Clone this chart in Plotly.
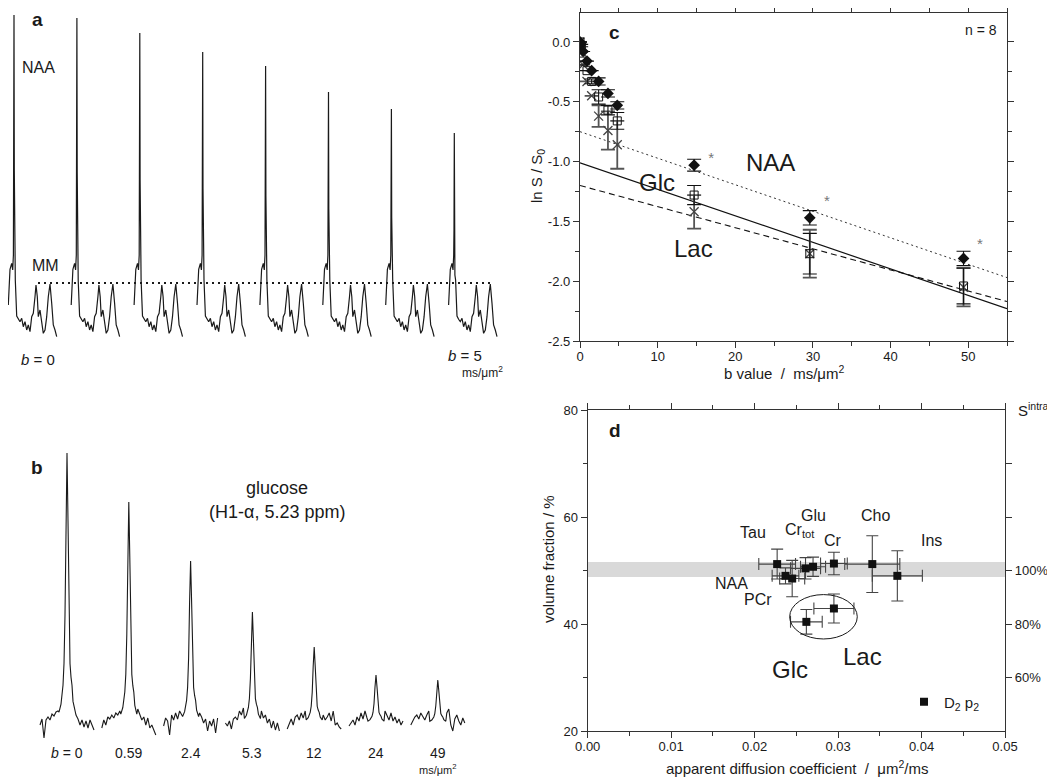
import plotly.graph_objects as go

W, H = 1055, 780
PAGE_PAD = 8  # browser body margin: the figure sits 8px in from the page corner
FONT = "Arial, Liberation Sans, Helvetica, sans-serif"
INK = "#1a1a1a"
AX = "#333333"


def fx(p):
    return (p - PAGE_PAD) / W


def fy(p):
    return 1 - (p - PAGE_PAD) / H


# ---------------- panel a : stacked NAA spectra, b = 0 ... 5 ----------------
a_peak_heights = [310, 307, 292, 273, 259, 233, 216, 192]
a_offsets = [-5.7, -4.0, -2.3, -1.3, -0.6, -0.3, 0.0, 0.3, 0.6, 1.3, 2.7, 4.3,
             6.0, 7.7, 9.3, 11.0, 12.7, 14.3, 16.0, 17.7, 19.3, 21.0,
             22.0, 23.3, 24.3, 26.0, 27.7, 29.3, 31.0, 32.7, 34.3, 36.0,
             37.7, 39.3, 41.0, 42.7]
a_baseline = [20, 55.7, 61.7, 55, 70, 0, 0, 0, 50, 45, 9, 5.7,
              3.3, 6.7, -1.7, 3.3, -5, 0, -6.7, 8.3, 11.7, 28.3,
              40, 28.3, 8.3, 15, 5, -8.3, -5, 8.3, 28.3, 41,
              21.7, 0, -5, -11.7]
a_peak_frac = [0, 0, 0, 0, 0, 0.5, 1, 0.5, 0, 0, 0, 0,
               0, 0, 0, 0, 0, 0, 0, 0, 0, 0,
               0, 0, 0, 0, 0, 0, 0, 0, 0, 0,
               0, 0, 0, 0]
a_mm_level = 42
a_first, a_step = 14, 62.9

# ---------------- panel b : glucose H1-alpha spectra ----------------
b_labels = ["<i>b</i> = 0", "0.59", "2.4", "5.3", "12", "24", "49"]
b_heights = [270, 221, 162, 111, 76, 48, 43]
b_peak_off = [-8, -6, -4, -3, -2, -1, 0, 1, 2, 3, 4, 5, 6, 8]
b_peak_shape = [0.04, 0.07, 0.14, 0.22, 0.40, 0.75, 1.0, 0.75, 0.40, 0.22, 0.17, 0.14, 0.08, 0.04]
b_noise_left_off = [-27, -25, -23, -21, -19, -17, -15, -13, -11, -9]
b_noise_right_off = [9, 11, 13, 15, 17, 19, 21, 23, 25, 27]
b_noise_left = [
    [-2, 4, -15, 3, 6, 3, 9, 7, 11, 12],
    [-5, 3, -2, 6, 4, 8, 5, 10, 8, 12],
    [-3, 5, 2, -12, 8, 3, 10, 4, 12, 8],
    [0, -3, 2, -6, 4, 6, 3, 12, 8, 15],
    [-6, 0, 4, -2, 6, 8, 3, 10, 5, 12],
    [-3, 0, 3, -2, 6, 2, 10, 4, 12, 5],
    [-2, 3, 6, 8, 4, 10, 6, 3, 8, 12],
]
b_noise_right = [
    [8, 4, -2, 3, -4, 2, -5, 3, -3, -7],
    [14, 8, 3, 6, -2, 5, -5, -2, -8, -12],
    [10, 6, 0, 4, -8, 2, -3, 4, -10, 5],
    [12, 5, 8, 0, 4, -5, 2, -7, 0, -8],
    [8, 3, 6, 10, 2, 12, -2, 0, -4, -6],
    [12, 8, 3, 10, 2, 6, 0, 4, -2, 2],
    [10, 14, -2, -8, 4, 8, 2, -2, 5, 0],
]
b_first, b_step = 67, 61.8

# ---------------- panel c : ln S/S0 vs b ----------------
c_b = [0, 0.15, 0.4, 0.9, 1.5, 2.4, 3.6, 4.8, 14.7, 29.6, 49.4]
c_naa = [0.0, -0.02, -0.08, -0.16, -0.24, -0.33, -0.43, -0.53, -1.03, -1.47, -1.81]
c_naa_err = [0, 0, 0, 0, 0, 0.03, 0.03, 0.03, 0.05, 0.06, 0.06]
c_glc = [0.0, -0.04, -0.16, -0.24, -0.33, -0.46, -0.57, -0.66, -1.28, -1.77, -2.04]
c_glc_err = [0, 0, 0, 0, 0.02, 0.06, 0.04, 0.07, 0.08, 0.17, 0.15]
c_lac = [0.0, -0.08, -0.19, -0.33, -0.45, -0.62, -0.74, -0.86, -1.42, -1.77, -2.05]
c_lac_err = [0, 0, 0, 0, 0, 0.09, 0.16, 0.20, 0.14, 0.20, 0.16]
c_fit_b = [0, 55]
c_fit_naa = [-0.75, -1.97]
c_fit_glc = [-1.01, -2.23]
c_fit_lac = [-1.20, -2.17]
c_sig_b = [16.9, 31.8, 51.5]
c_sig_y = [-0.98, -1.34, -1.70]
c_yticks = [0.0, -0.5, -1.0, -1.5, -2.0, -2.5]
c_ytext = ["0.0", "-0.5", "-1.0", "-1.5", "-2.0", "-2.5"]

# ---------------- panel d : volume fraction vs ADC ----------------
d_names = ["Tau", "NAA", "PCr", "Cr_tot", "Glu", "Cr", "Cho", "Ins", "Glc", "Lac"]
d_adc = [0.0227, 0.0237, 0.0245, 0.0261, 0.0270, 0.0295, 0.0341, 0.0371, 0.0262, 0.0295]
d_adc_err = [0.0022, 0.0016, 0.0015, 0.0018, 0.0015, 0.0016, 0.0033, 0.0030, 0.0019, 0.0024]
d_vf = [51.2, 49.0, 48.5, 50.4, 50.7, 51.3, 51.2, 49.0, 40.4, 42.9]
d_vf_err = [2.8, 1.5, 3.4, 2.0, 1.8, 2.1, 5.3, 4.7, 2.3, 2.7]
d_band = [48.8, 51.6]
d_ellipse_x = [0.0242, 0.0323]
d_ellipse_y = [37.2, 45.5]
d_xticks = [0.0, 0.01, 0.02, 0.03, 0.04, 0.05]
d_xtext = ["0.00", "0.01", "0.02", "0.03", "0.04", "0.05"]
d_s_ticks = [60, 80, 100, 120, 140]
d_s_text = ["60%", "80%", "100%", " ", " "]

fig = go.Figure()

# panel a spectra
for i, hgt in enumerate(a_peak_heights):
    cx = a_first + i * a_step
    xs = [cx + o for o in a_offsets]
    ys = [b0 + f * hgt for b0, f in zip(a_baseline, a_peak_frac)]
    fig.add_trace(go.Scatter(x=xs, y=ys, mode="lines", xaxis="x", yaxis="y",
                             line=dict(color=INK, width=1.2), showlegend=False, hoverinfo="skip"))

# panel b spectra
for i, hgt in enumerate(b_heights):
    cx = b_first + i * b_step
    xs = [cx + o for o in b_noise_left_off] + [cx + o for o in b_peak_off] + [cx + o for o in b_noise_right_off]
    ys = list(b_noise_left[i]) + [s * hgt for s in b_peak_shape] + list(b_noise_right[i])
    fig.add_trace(go.Scatter(x=xs, y=ys, mode="lines", xaxis="x2", yaxis="y2",
                             line=dict(color=INK, width=1.1), showlegend=False, hoverinfo="skip"))

# panel c fits
fig.add_trace(go.Scatter(x=c_fit_b, y=c_fit_naa, mode="lines", xaxis="x3", yaxis="y3",
                         line=dict(color="#333", width=1, dash="2px,3px"), showlegend=False))
fig.add_trace(go.Scatter(x=c_fit_b, y=c_fit_glc, mode="lines", xaxis="x3", yaxis="y3",
                         line=dict(color="#111", width=1.2), showlegend=False))
fig.add_trace(go.Scatter(x=c_fit_b, y=c_fit_lac, mode="lines", xaxis="x3", yaxis="y3",
                         line=dict(color="#111", width=1.1, dash="6px,4px"), showlegend=False))
# panel c data
fig.add_trace(go.Scatter(x=c_b, y=c_lac, mode="markers", xaxis="x3", yaxis="y3",
                         marker=dict(symbol="x-thin-open", size=9, color="#444", line=dict(color="#444", width=1.3)),
                         error_y=dict(type="data", array=c_lac_err, color="#555", thickness=1.8, width=7),
                         showlegend=False))
fig.add_trace(go.Scatter(x=c_b, y=c_glc, mode="markers", xaxis="x3", yaxis="y3",
                         marker=dict(symbol="square-open", size=8, color="#111", line=dict(color="#111", width=1)),
                         error_y=dict(type="data", array=c_glc_err, color="#111", thickness=1.1, width=7),
                         showlegend=False))
fig.add_trace(go.Scatter(x=c_b, y=c_naa, mode="markers", xaxis="x3", yaxis="y3",
                         marker=dict(symbol="diamond", size=9, color="#111"),
                         error_y=dict(type="data", array=c_naa_err, color="#111", thickness=1.1, width=7),
                         showlegend=False))
fig.add_trace(go.Scatter(x=c_sig_b, y=c_sig_y, mode="text", text=["*"] * len(c_sig_b), xaxis="x3", yaxis="y3",
                         textfont=dict(family=FONT, size=15, color="#777"), showlegend=False))

# panel d data
fig.add_trace(go.Scatter(x=d_adc, y=d_vf, mode="markers", xaxis="x4", yaxis="y4",
                         name="D<sub>2</sub> p<sub>2</sub>",
                         marker=dict(symbol="square", size=8, color="#111"),
                         error_x=dict(type="data", array=d_adc_err, color="#444", thickness=1.1, width=6),
                         error_y=dict(type="data", array=d_vf_err, color="#444", thickness=1.1, width=6),
                         showlegend=True))
# invisible trace to activate the right axis
fig.add_trace(go.Scatter(x=[None], y=[None], xaxis="x4", yaxis="y5", showlegend=False, hoverinfo="skip"))

tickfont = dict(family=FONT, size=13, color=INK)

layout = dict(
    template="none",
    width=W, height=H, margin=dict(l=0, r=0, t=0, b=0, autoexpand=False),
    paper_bgcolor="white", plot_bgcolor="rgba(0,0,0,0)",
    font=dict(family=FONT, color=INK),
    # panel a
    xaxis=dict(domain=[fx(8), fx(520)], range=[8, 520], visible=False, automargin=False),
    yaxis=dict(domain=[fy(340), fy(8)], range=[-15, 317], visible=False, automargin=False),
    # panel b
    xaxis2=dict(domain=[fx(8), fx(520)], range=[8, 520], visible=False, anchor="y2", automargin=False),
    yaxis2=dict(domain=[fy(760), fy(420)], range=[-37, 303], visible=False, anchor="x2", automargin=False),
    # panel c
    xaxis3=dict(domain=[fx(580), fx(1007)], range=[0, 55], anchor="y3", automargin=False,
                tickmode="array", tickvals=[0, 10, 20, 30, 40, 50], ticklabelstandoff=-3,
                ticks="outside", ticklen=6, tickwidth=1.2, tickcolor=AX,
                minor=dict(tickmode="linear", tick0=0, dtick=5, ticks="outside", ticklen=3.5, tickcolor=AX, tickwidth=1.2),
                showline=True, linecolor=AX, linewidth=1.3, mirror="ticks",
                showgrid=False, zeroline=False, tickfont=tickfont),
    yaxis3=dict(domain=[fy(341), fy(13)], range=[-2.5, 0.242], anchor="x3", automargin=False,
                tickmode="array", tickvals=c_yticks, ticktext=c_ytext,
                ticks="outside", ticklen=6, tickwidth=1.2, tickcolor=AX,
                minor=dict(tickmode="linear", tick0=0, dtick=0.25, ticks="outside", ticklen=4, tickcolor=AX, tickwidth=1.2),
                showline=True, linecolor=AX, linewidth=1.3, mirror="ticks",
                showgrid=False, zeroline=False, tickfont=tickfont),
    # panel d
    xaxis4=dict(domain=[fx(587.7), fx(1005)], range=[0, 0.05], anchor="y4", automargin=False,
                tickmode="array", tickvals=d_xticks, ticktext=d_xtext, ticklabelstandoff=-3,
                ticks="outside", ticklen=6, tickwidth=1.2, tickcolor=AX,
                minor=dict(tickmode="linear", tick0=0, dtick=0.005, ticks="outside", ticklen=3.5, tickcolor=AX, tickwidth=1.2),
                showline=True, linecolor=AX, linewidth=1.3, mirror="ticks",
                showgrid=False, zeroline=False, tickfont=tickfont),
    yaxis4=dict(domain=[fy(731), fy(410)], range=[20, 80], anchor="x4", automargin=False,
                tickmode="array", tickvals=[20, 40, 60, 80],
                ticks="outside", ticklen=6, tickwidth=1.2, tickcolor=AX,
                minor=dict(tickmode="linear", tick0=20, dtick=10, ticks="outside", ticklen=3.5, tickcolor=AX, tickwidth=1.2),
                showline=True, linecolor=AX, linewidth=1.3, mirror=False,
                showgrid=False, zeroline=False, tickfont=tickfont),
    yaxis5=dict(overlaying="y4", side="right", anchor="x4", range=[40, 160], automargin=False,
                tickmode="array", tickvals=d_s_ticks, ticktext=d_s_text,
                ticks="outside", ticklen=6, tickwidth=1.2, tickcolor=AX,
                showline=True, linecolor=AX, linewidth=1.3,
                showgrid=False, zeroline=False, tickfont=tickfont),
    legend=dict(x=fx(904), y=fy(702), xanchor="left", yanchor="middle",
                bgcolor="rgba(0,0,0,0)", borderwidth=0, font=dict(family=FONT, size=15, color=INK),
                itemwidth=30, tracegroupgap=0),
    showlegend=True,
)
fig.update_layout(**layout)

# shapes
fig.add_shape(type="line", xref="x", yref="y", x0=38, x1=490, y0=a_mm_level, y1=a_mm_level,
              line=dict(color=INK, width=2, dash="2px,4px"))
fig.add_shape(type="rect", xref="x4", yref="y4", x0=0, x1=0.05, y0=d_band[0], y1=d_band[1],
              fillcolor="#d9d9d9", line=dict(width=0), layer="below")
fig.add_shape(type="circle", xref="x4", yref="y4", x0=d_ellipse_x[0], x1=d_ellipse_x[1],
              y0=d_ellipse_y[0], y1=d_ellipse_y[1], line=dict(color=INK, width=1))


def note(text, x, y, size=15, bold=False, angle=0, xanchor="center", xref="paper"):
    if bold:
        text = "<b>" + text + "</b>"
    fig.add_annotation(text=text, x=x if xref != "paper" else fx(x), y=fy(y), xref=xref, yref="paper",
                       showarrow=False, textangle=angle, xanchor=xanchor, yanchor="middle",
                       font=dict(family=FONT, size=size, color=INK))


# panel a text
note("a", 37, 20, size=19, bold=True)
note("NAA", 38, 68, size=16)
note("MM", 45, 266, size=16)
note("<i>b</i> = 0", 38, 360, size=15)
note("<i>b</i> = 5", 465, 355, size=15)
note("ms/μm<sup>2</sup>", 482, 372, size=12)

# panel b text
note("b", 37, 467, size=19, bold=True)
note("glucose", 277, 488, size=18)
note("(H1-α, 5.23 ppm)", 277, 512, size=18)
for i, lab in enumerate(b_labels):
    note(lab, b_first + i * b_step, 753, size=14, xref="x2")
note("ms/μm<sup>2</sup>", 438, 769, size=11)

# panel c text
note("c", 615, 33, size=19, bold=True)
note("n = 8", 981, 30, size=14)
note("NAA", 770, 163, size=24)
note("Glc", 657, 182, size=24)
note("Lac", 693, 248, size=24)
note("ln S / S<sub>0</sub>", 537, 176, size=15, angle=-90)
note("b value  /  ms/μm<sup>2</sup>", 784, 372, size=15)

# panel d text
note("d", 615, 430, size=19, bold=True)
note("Tau", 753, 532, size=16)
note("Cr<sub>tot</sub>", 800, 530, size=16)
note("Glu", 813, 515, size=16)
note("Cr", 833, 540, size=16)
note("Cho", 875, 515, size=16)
note("Ins", 931, 540, size=16)
note("NAA", 731, 583, size=16)
note("PCr", 758, 599, size=16)
note("Glc", 790, 669, size=24)
note("Lac", 862, 656, size=24)
note("volume fraction / %", 548, 559, size=15, angle=-90)
note("apparent diffusion coefficient  /  μm<sup>2</sup>/ms", 797, 767, size=15)
note("S<sup>intra</sup>", 1016, 410, size=15, xanchor="left")

fig.write_html("out.html")
